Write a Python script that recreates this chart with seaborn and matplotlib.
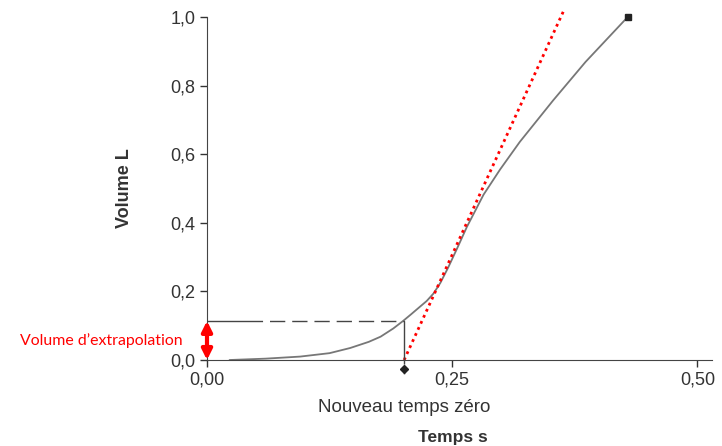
import matplotlib.pyplot as plt
import seaborn as sns

sns.set_style("ticks")
plt.rcParams["font.family"] = ["Liberation Sans", "DejaVu Sans"]

# courbe volume-temps
temps = [0.023, 0.06, 0.095, 0.125, 0.146, 0.165, 0.177, 0.19, 0.200, 0.208, 0.217,
         0.224, 0.231, 0.238, 0.246, 0.255, 0.265, 0.282, 0.299, 0.319, 0.353,
         0.386, 0.429]
volume = [0.0, 0.004, 0.010, 0.020, 0.035, 0.053, 0.068, 0.092, 0.114, 0.133, 0.155,
          0.172, 0.194, 0.225, 0.270, 0.325, 0.388, 0.482, 0.556, 0.636, 0.757,
          0.869, 1.0]

# tangente (extrapolation)
tangente_t = [0.201, 0.364]
tangente_v = [0.0, 1.02]

t_zero = 0.201
v_extra = 0.114

xticks = [0.0, 0.25, 0.50]
xlabels = ["0,00", "0,25", "0,50"]
yticks = [0.0, 0.2, 0.4, 0.6, 0.8, 1.0]
ylabels = ["0,0", "0,2", "0,4", "0,6", "0,8", "1,0"]

fig = plt.figure(figsize=(7.22, 4.46), dpi=100)
ax = fig.add_axes([0.2867, 0.1928, 0.6995, 0.7691])

sns.lineplot(x=temps, y=volume, ax=ax, color="#777777", linewidth=1.3,
             estimator=None, sort=False)
ax.plot(temps[-1], volume[-1], marker="s", color="#222222", markersize=5, clip_on=False)

sns.lineplot(x=tangente_t, y=tangente_v, ax=ax, color="red", linewidth=2,
             linestyle=(0, (1, 1.4)), estimator=None)
ax.lines[-1].set_clip_on(False)

ax.plot([0, t_zero], [v_extra, v_extra], color="#444444", linewidth=1,
        dashes=(40, 5) + (11, 5) * 6)
ax.plot([t_zero, t_zero], [0, v_extra], color="#444444", linewidth=1)
ax.plot([t_zero, t_zero], [0, -0.055], color="#444444", linewidth=1,
        dashes=(3, 4), clip_on=False)
ax.plot(t_zero, -0.025, marker="D", color="#222222", markersize=4, clip_on=False)

ax.annotate("", xy=(0, v_extra), xytext=(0, 0),
            arrowprops=dict(arrowstyle="<|-|>", color="red", lw=3,
                            mutation_scale=15, shrinkA=0, shrinkB=0),
            annotation_clip=False)
ax.text(-0.0245, 0.057, "Volume d\u2019extrapolation", color="red", fontsize=11.4,
        ha="right", va="center", family=["Lato", "DejaVu Sans"])

ax.set_xlim(0, 0.515)
ax.set_ylim(0, 1.0)
ax.set_xticks(xticks, xlabels)
ax.set_yticks(yticks, ylabels)
ax.tick_params(colors="#333333", labelsize=13, length=5, width=1)
for s in ["left", "bottom"]:
    ax.spines[s].set_color("#444444")
sns.despine(ax=ax)

ax.text(t_zero, -0.137, "Nouveau temps z\u00e9ro", ha="center", va="center",
        fontsize=13.5, color="#333333")
ax.set_xlabel("Temps s", fontsize=12.5, fontweight="bold", color="#333333")
ax.xaxis.set_label_coords(0.487, -0.204)
ax.set_ylabel("Volume L", fontsize=13, fontweight="bold", color="#333333")
ax.yaxis.set_label_coords(-0.147, 0.5)

fig.savefig("out.png", dpi=100)
